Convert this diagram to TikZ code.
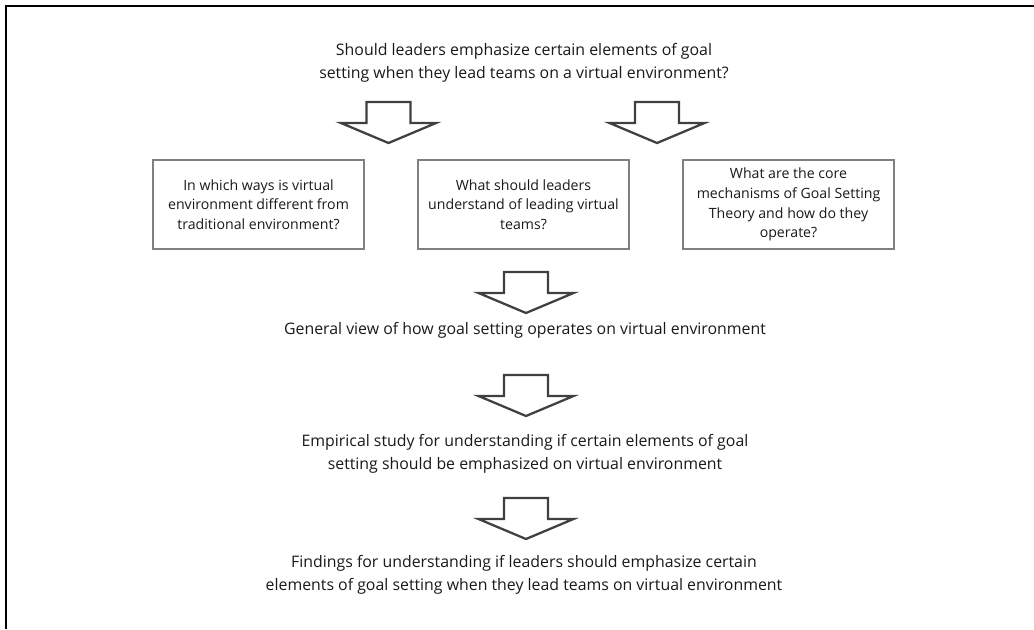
\documentclass[tikz,border=0pt]{standalone}
\usepackage{fontspec}
\setmainfont{Open Sans}
\begin{document}
\begin{tikzpicture}[x=0.75pt,y=-0.75pt,
  frameline/.style={line width=1.6pt, black},
  qbox/.style={draw=black!50, line width=0.8pt, minimum width=158.25pt,
    minimum height=66.75pt, align=center, text=black!90,
    font=\fontsize{10.6pt}{14.8pt}\selectfont, inner sep=0pt},
  stage/.style={align=center, text=black!90,
    font=\fontsize{11.9pt}{17pt}\selectfont, inner sep=0pt},
  arrowline/.style={draw=black!75, line width=1.7pt, fill=white, line join=miter},
  downarrow/.pic={\path[arrowline] (-22,0) -- (22,0) -- (22,21) -- (47.5,21)
      -- (0,41) -- (-47.5,21) -- (-22,21) -- cycle;}
]
\useasboundingbox (0,0) rectangle (1034,629);
% open frame: left and top edges only
\draw[frameline] (6,629) -- (6,6) -- (1034,6);

% research question
\node[stage] (question) at (524,63)
  {Should leaders emphasize certain elements of goal\\
   setting when they lead teams on a virtual environment?};

\pic at (388.5,102) {downarrow};
\pic at (657,102) {downarrow};

% sub-questions
\node[qbox] (virtual) at (258.5,204.5)
  {In which ways is virtual\\environment different from\\traditional environment?};
\node[qbox] (leaders) at (523.5,204.5)
  {What should leaders\\understand of leading virtual\\teams?};
\node[qbox] (theory) at (788.5,204.5)
  {What are the core\\mechanisms of Goal Setting\\Theory and how do they\\operate?};

\pic at (526,272) {downarrow};
\node[stage] (general) at (525,330)
  {General view of how goal setting operates on virtual environment};

\pic at (526,375) {downarrow};
\node[stage] (empirical) at (525,454)
  {Empirical study for understanding if certain elements of goal\\
   setting should be emphasized on virtual environment};

\pic at (526,498) {downarrow};
\node[stage] (findings) at (524,575)
  {Findings for understanding if leaders should emphasize certain\\
   elements of goal setting when they lead teams on virtual environment};
\end{tikzpicture}
\end{document}
